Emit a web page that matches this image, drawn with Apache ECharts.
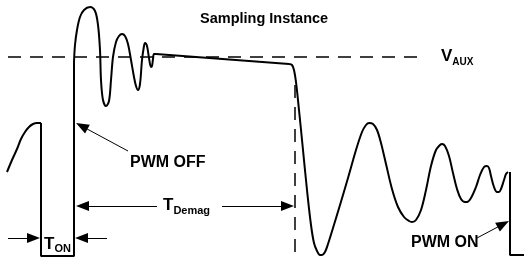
<!DOCTYPE html>
<html>
<head>
<meta charset="utf-8">
<script src="https://cdn.jsdelivr.net/npm/echarts@6/dist/echarts.min.js"></script>
<style>
  html, body { margin: 0; padding: 0; background: #fff; }
  #chart { width: 524px; height: 259px; }
</style>
</head>
<body>
<div id="chart"></div>
<script>
// waveform: time (left->right), level (top->bottom, axis inverted)
var preT = [7, 12, 17, 21, 25, 29, 33, 37, 41];
var preV = [172, 160, 149, 139, 132, 127, 124, 123, 123];

var edgeT = [41, 41, 74, 74];
var edgeV = [123, 256, 256, 62];

var ringT = [74, 75, 77, 80, 84, 90, 95, 98, 100, 101, 103, 106, 109, 111, 113, 116, 119, 122, 125, 128, 131, 134, 136, 138, 140, 142, 144, 145, 147, 149, 151, 152, 153, 154, 156];
var ringV = [62, 45, 30, 17, 10, 7, 11, 25, 50, 80, 100, 106, 101, 80, 57, 42, 36, 34, 36, 44, 60, 77, 86, 90, 84, 60, 46, 43, 46, 58, 67, 66, 59, 54, 54];

var plateauT = [156, 289];
var plateauV = [54, 64];

var fallT = [289, 292, 294, 296, 299, 303, 307, 311, 314, 317, 320, 322, 325, 328, 333, 340, 348, 356, 362, 366, 369, 373, 377, 381, 386, 392, 398, 404, 409, 412, 416, 421, 426, 431, 436, 440, 442, 445, 449, 453, 457, 461, 465, 467, 471, 476, 480, 484, 487, 489, 491, 494, 497, 499, 501, 504, 506, 508];
var fallV = [64, 65, 70, 82, 110, 150, 190, 225, 243, 251, 255, 255, 252, 244, 228, 205, 178, 150, 132, 125, 123, 124, 130, 143, 164, 189, 207, 217, 221, 222, 220, 210, 190, 166, 150, 145, 144, 146, 156, 173, 189, 199, 202, 202, 198, 187, 175, 167, 166, 168, 176, 187, 192, 192, 189, 180, 174, 172];

var onT = [510, 510, 524];
var onV = [172, 255, 255];

var vauxLevel = 57;
var sampleT = 295;

// annotation arrows: [tail, tip]
var arrows = [
  [[128, 151], [76, 123]],
  [[157, 206], [76, 206]],
  [[222, 206], [294, 206]],
  [[8, 238], [40, 238]],
  [[107, 238], [75, 238]],
  [[477, 238], [509, 221]]
];

function zip(a, b) {
  return a.map(function (v, i) { return [v, b[i]]; });
}

var wave = { color: '#000', width: 2 };
var dash = { color: '#000', width: 1.5, type: [13, 9] };
var headSize = 13;

function lineSeries(data, smooth, style) {
  return {
    type: 'line',
    data: data,
    smooth: smooth,
    symbol: 'none',
    lineStyle: style,
    silent: true
  };
}

// markLine centres the head on the end point, so pull it back half a head
function arrowPair(a) {
  var dx = a[1][0] - a[0][0], dy = a[1][1] - a[0][1];
  var len = Math.sqrt(dx * dx + dy * dy);
  var k = (headSize / 2) / len;
  return [{ coord: a[0] }, { coord: [a[1][0] - dx * k, a[1][1] - dy * k] }];
}

var chart = echarts.init(document.getElementById('chart'));
var option = {
  animation: false,
  grid: { left: 0, right: 0, top: 0, bottom: 0 },
  xAxis: { type: 'value', min: 0, max: 524, show: false },
  yAxis: { type: 'value', min: 0, max: 259, inverse: true, show: false },
  series: [
    lineSeries(zip(preT, preV), 0.4, wave),
    lineSeries(zip(edgeT, edgeV), false, wave),
    lineSeries(zip(ringT, ringV), 0.35, wave),
    lineSeries(zip(plateauT, plateauV), false, wave),
    lineSeries(zip(fallT, fallV), 0.35, wave),
    lineSeries(zip(onT, onV), false, wave),
    lineSeries([[8, vauxLevel], [420, vauxLevel]], false, dash),
    lineSeries([[sampleT, 85], [sampleT, 252]], false, dash),
    {
      type: 'line',
      data: [],
      markLine: {
        silent: true,
        symbol: ['none', 'path://M0,0 L5,13 L-5,13 Z'],
        symbolSize: headSize,
        symbolKeepAspect: true,
        label: { show: false },
        lineStyle: { color: '#000', width: 1, type: 'solid' },
        emphasis: { disabled: true },
        data: arrows.map(arrowPair)
      }
    }
  ],
  graphic: [
    { type: 'text', left: 200, top: 11, style: { text: 'Sampling Instance', font: 'bold 14.5px "Liberation Sans", Arial', fill: '#000' } },
    { type: 'text', left: 130, top: 155, style: { text: 'PWM OFF', font: 'bold 16px "Liberation Sans", Arial', fill: '#000' } },
    { type: 'text', left: 411, top: 235, style: { text: 'PWM ON', font: 'bold 16px "Liberation Sans", Arial', fill: '#000' } },
    { type: 'text', left: 44, top: 236, style: { text: '{b|T}{s|ON}', fill: '#000', rich: {
      b: { fontSize: 17, fontWeight: 'bold', fontFamily: 'Liberation Sans', verticalAlign: 'bottom' },
      s: { fontSize: 11, fontWeight: 'bold', fontFamily: 'Liberation Sans', verticalAlign: 'bottom', padding: [0, 0, -1, 0] }
    } } },
    { type: 'text', left: 163, top: 197, style: { text: '{b|T}{s|Demag}', fill: '#000', rich: {
      b: { fontSize: 17, fontWeight: 'bold', fontFamily: 'Liberation Sans', verticalAlign: 'bottom' },
      s: { fontSize: 11, fontWeight: 'bold', fontFamily: 'Liberation Sans', verticalAlign: 'bottom', padding: [0, 0, -2, 0] }
    } } },
    { type: 'text', left: 441, top: 48, style: { text: '{b|V}{s|AUX}', fill: '#000', rich: {
      b: { fontSize: 17, fontWeight: 'bold', fontFamily: 'Liberation Sans', verticalAlign: 'bottom' },
      s: { fontSize: 10, fontWeight: 'bold', fontFamily: 'Liberation Sans', verticalAlign: 'bottom', padding: [0, 0, -2, 0] }
    } } }
  ]
};
chart.setOption(option);
</script>
</body>
</html>
